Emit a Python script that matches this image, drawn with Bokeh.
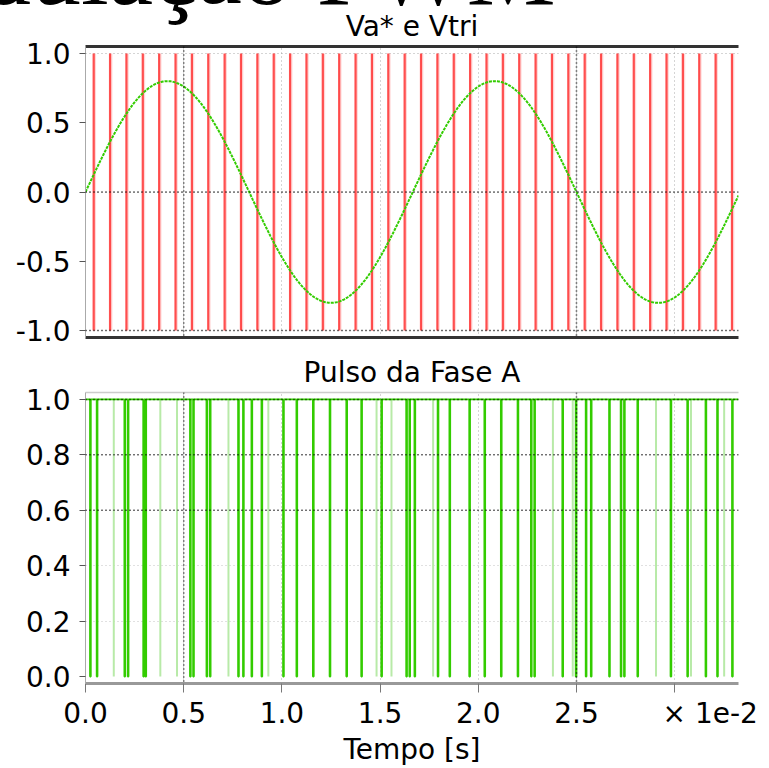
import numpy as np
from bokeh.plotting import figure
from bokeh.layouts import column
from bokeh.models import (Range1d, FixedTicker, PrintfTickFormatter, LinearAxis,
                          Span, Grid, Div)
from bokeh.embed import file_html
from bokeh.resources import INLINE

# ---------------- data (time in units of 1e-2 s, as on the axis) ----------------
time_end = 3.325
x_ticks = [0.0, 0.5, 1.0, 1.5, 2.0, 2.5, 3.0]
x_scale_note = "× 1e-2"
top_y_ticks = [-1.0, -0.5, 0.0, 0.5, 1.0]
top_grid_y = [-1.0, 0.0, 1.0]
bottom_y_ticks = [0.0, 0.2, 0.4, 0.6, 0.8, 1.0]

# reference Va*: sine
va_amplitude = 0.8
va_frequency_hz = 60.0

# carrier Vtri: vertical strokes seen on the picture (every 1/1200 s)
carrier_period = 1.0 / 12.0          # 1e-2 s  (= 1/1200 s)
carrier_count = 40
carrier_low, carrier_high = -1.0, 1.0

# gate pulse of phase A: positions of the switching lines
pulse_strong = [0.025, 0.059, 0.200, 0.217, 0.296, 0.307, 0.534, 0.550, 0.618, 0.635,
                0.779, 0.804, 0.847, 0.898, 1.008, 1.076, 1.160, 1.245, 1.330, 1.406,
                1.508, 1.635, 1.651, 1.677, 1.795, 1.855, 1.956, 2.033, 2.117, 2.202,
                2.270, 2.287, 2.430, 2.498, 2.549, 2.575, 2.668, 2.727, 2.744, 2.812,
                2.981, 3.066, 3.159, 3.218, 3.294]
pulse_faint = [0.144, 0.381, 0.466, 0.728, 0.931, 1.482, 1.558, 1.770, 2.380, 2.481,
               2.905, 3.083, 3.252]
pulse_high, pulse_low = 1.0, 0.0

# ---------------- styling ----------------
FONT = "DejaVu Sans"
FS = "28px"
RED = "#ff2424"
GREEN = "#33cc00"


def border_axis(color, width):
    return LinearAxis(ticker=FixedTicker(ticks=[]), axis_line_color=color,
                      axis_line_width=width, major_tick_line_color=None,
                      minor_tick_line_color=None, major_label_text_font_size="0px",
                      major_tick_out=0, major_tick_in=0,
                      major_label_standoff=0, axis_label_standoff=0)


def style_yaxis(ax):
    ax.axis_line_color = "#aaaaaa"
    ax.major_tick_line_color = "#555555"
    ax.major_tick_in = 0
    ax.major_tick_out = 6
    ax.minor_tick_line_color = None
    ax.major_label_text_font = FONT
    ax.major_label_text_font_size = FS
    ax.major_label_text_color = "black"
    ax.major_label_standoff = 9


def style_title(p):
    p.title.text_font = FONT
    p.title.text_font_size = FS
    p.title.text_font_style = "normal"
    p.title.align = "center"
    p.title.text_color = "black"


# ---------------- cut-off page heading ----------------
heading = Div(
    text=('<div style="position:relative; top:-79px; left:-158px; z-index:10; '
          'font-family:\'Liberation Serif\'; font-size:100px; line-height:100px; '
          'white-space:nowrap; color:black;">Modulação PWM</div>'),
    width=769, height=1, margin=0,
    styles={"overflow": "visible", "position": "relative", "z-index": "10"})

# ---------------- top figure ----------------
top = figure(width=769, height=348, x_range=Range1d(0, time_end),
             y_range=Range1d(-1.05, 1.05), title="Va* e Vtri",
             output_backend="svg", toolbar_location=None,
             x_axis_location=None, y_axis_location=None,
             min_border_left=85, min_border_right=31, min_border_top=45,
             min_border_bottom=12)
top.grid.visible = False
top.outline_line_color = None
top.background_fill_color = "white"
top.border_fill_color = "white"
style_title(top)
top.title.standoff = 7

yax = LinearAxis(ticker=FixedTicker(ticks=top_y_ticks),
                 formatter=PrintfTickFormatter(format="%.1f"))
style_yaxis(yax)
top.add_layout(yax, "left")
top.add_layout(border_axis("#333333", 3), "above")
top.add_layout(border_axis("#333333", 3), "below")

top.add_layout(Grid(dimension=0, ticker=FixedTicker(ticks=x_ticks),
                    grid_line_color="#888888", grid_line_dash="1 3", grid_line_alpha=0.7))
top.add_layout(Grid(dimension=1, ticker=FixedTicker(ticks=top_grid_y),
                    grid_line_color="#888888", grid_line_dash="1 3", grid_line_alpha=0.7))
for loc in (0.5, 2.5):
    top.add_layout(Span(location=loc, dimension="height", line_color="black",
                        line_dash="1 3", line_width=1.5))
for loc in (0.0, -1.0):
    top.add_layout(Span(location=loc, dimension="width", line_color="black",
                        line_dash="1 3", line_width=1.5))

carrier_t = [(k + 0.5) * carrier_period for k in range(carrier_count)]
top.segment(x0=carrier_t, y0=[carrier_low] * carrier_count,
            x1=carrier_t, y1=[carrier_high] * carrier_count,
            line_color=RED, line_width=2.2, line_alpha=0.8)
shift = 0.007
top.segment(x0=[t + shift for t in carrier_t], y0=[carrier_low] * carrier_count,
            x1=[t + shift for t in carrier_t], y1=[carrier_high] * carrier_count,
            line_color=RED, line_width=2, line_alpha=0.18)

t = np.linspace(0, time_end, 700)
va = va_amplitude * np.sin(2 * np.pi * va_frequency_hz * t * 1e-2)
top.line(t, va, line_color=GREEN, line_width=2, line_dash="3 1")

# ---------------- bottom figure ----------------
bot = figure(width=769, height=419, x_range=Range1d(0, time_end),
             y_range=Range1d(-0.025, 1.025), title="Pulso da Fase A",
             output_backend="svg", toolbar_location=None,
             x_axis_location=None, y_axis_location=None,
             min_border_left=85, min_border_right=31, min_border_top=42,
             min_border_bottom=85)
bot.grid.visible = False
bot.outline_line_color = None
bot.background_fill_color = "white"
bot.border_fill_color = "white"
style_title(bot)
bot.title.standoff = 8

byax = LinearAxis(ticker=FixedTicker(ticks=bottom_y_ticks),
                  formatter=PrintfTickFormatter(format="%.1f"))
style_yaxis(byax)
bot.add_layout(byax, "left")
bot.add_layout(border_axis("#cccccc", 1.5), "above")

xax = LinearAxis(ticker=FixedTicker(ticks=x_ticks),
                 formatter=PrintfTickFormatter(format="%.1f"),
                 major_label_overrides={x_ticks[-1]: "\u00a0" * 8 + x_scale_note},
                 axis_label="Tempo [s]")
xax.axis_line_color = "#999999"
xax.axis_line_width = 3
xax.major_tick_line_color = "#777777"
xax.major_tick_in = 0
xax.major_tick_out = 9
xax.minor_tick_line_color = None
xax.major_label_text_font = FONT
xax.major_label_text_font_size = FS
xax.major_label_text_color = "black"
xax.major_label_standoff = 4
xax.axis_label_text_font = FONT
xax.axis_label_text_font_size = FS
xax.axis_label_text_font_style = "normal"
xax.axis_label_text_color = "black"
xax.axis_label_standoff = 0
bot.add_layout(xax, "below")

bot.add_layout(Grid(dimension=0, ticker=FixedTicker(ticks=x_ticks),
                    grid_line_color="#888888", grid_line_dash="1 3", grid_line_alpha=0.7))
bot.add_layout(Grid(dimension=1, ticker=FixedTicker(ticks=bottom_y_ticks[1:]),
                    grid_line_color="#999999", grid_line_dash="1 3", grid_line_alpha=0.6))
for loc in (0.5, 2.5):
    bot.add_layout(Span(location=loc, dimension="height", line_color="black",
                        line_dash="1 3", line_width=1.5))
for loc in (0.6, 0.8, 1.0):
    bot.add_layout(Span(location=loc, dimension="width", line_color="black",
                        line_dash="1 3", line_width=1.5))

eps = 0.002
px, py = [0.0], [pulse_high]
for e in pulse_strong:
    px += [e - eps, e - eps, e + eps, e + eps]
    py += [pulse_high, pulse_low, pulse_low, pulse_high]
px.append(time_end)
py.append(pulse_high)

bot.segment(x0=pulse_faint, y0=[pulse_low] * len(pulse_faint),
            x1=pulse_faint, y1=[pulse_high] * len(pulse_faint),
            line_color="#b8eaa8", line_width=2)
bot.line(px, py, line_color=GREEN, line_width=1.8)

layout = column(heading, top, bot, spacing=0)
open("out.html", "w", encoding="utf-8").write(file_html(layout, INLINE))
